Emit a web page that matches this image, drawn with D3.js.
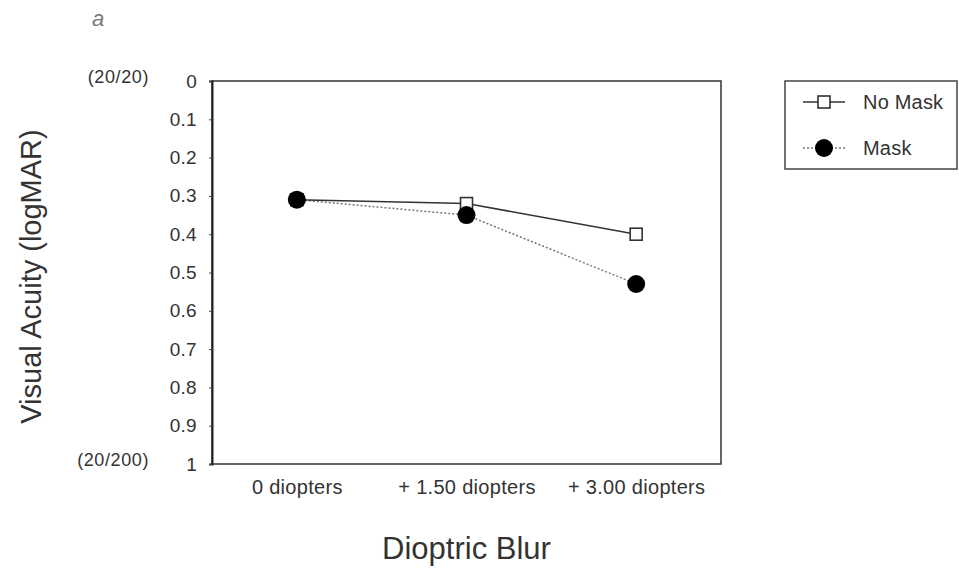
<!DOCTYPE html>
<html>
<head>
<meta charset="utf-8">
<script src="https://cdn.jsdelivr.net/npm/d3@7"></script>
<style>
  body { margin: 0; background: #fff; }
  text { font-family: "Liberation Sans", Arial, sans-serif; fill: #333; }
</style>
</head>
<body>
<div id="chart"></div>
<script>
const categories = ["0 diopters", "+ 1.50 diopters", "+ 3.00 diopters"];
const noMask = [0.31, 0.32, 0.40];
const mask = [0.31, 0.35, 0.53];
const yTicks = [0, 0.1, 0.2, 0.3, 0.4, 0.5, 0.6, 0.7, 0.8, 0.9, 1];
const snellen = [{ v: 0, label: "(20/20)" }, { v: 1, label: "(20/200)" }];

const svgWidth = 959;
const svgHeight = 570;
const margin = { top: 81, left: 212, right: 238, bottom: 106 };
const width = svgWidth - margin.left - margin.right;
const height = svgHeight - margin.top - margin.bottom;

const svg = d3.select("#chart")
  .append("svg")
  .attr("width", svgWidth)
  .attr("height", svgHeight);

const chartGroup = svg.append("g")
  .attr("transform", `translate(${margin.left}, ${margin.top})`);

const x = d3.scalePoint()
  .domain(categories)
  .range([0, width])
  .padding(0.5);

const y = d3.scaleLinear()
  .domain([0, 1])
  .range([0, height]);

// frame
chartGroup.append("rect")
  .attr("width", width)
  .attr("height", height)
  .attr("fill", "none")
  .attr("stroke", "#333")
  .attr("stroke-width", 1.5);

// y axis
const leftAxis = d3.axisLeft(y)
  .tickValues(yTicks)
  .tickSize(3)
  .tickPadding(12)
  .tickFormat(d => d === 0 || d === 1 ? d3.format("d")(d) : d3.format(".1f")(d));

const yAxis = chartGroup.append("g").call(leftAxis);
yAxis.select(".domain").attr("stroke", "#222").attr("stroke-width", 2);
yAxis.selectAll(".tick line").attr("stroke", "#444");
yAxis.selectAll(".tick text")
  .attr("font-size", "19px")
  .attr("font-family", "Liberation Sans, Arial, sans-serif")
  .attr("letter-spacing", "0.3px")
  .attr("fill", "#333");

chartGroup.selectAll(".snellen")
  .data(snellen)
  .join("text")
  .attr("class", "snellen")
  .attr("x", -63)
  .attr("y", d => y(d.v))
  .attr("dy", "0.1em")
  .attr("text-anchor", "end")
  .attr("font-size", "18px")
  .attr("letter-spacing", "0.6px")
  .text(d => d.label);

// x axis labels
const bottomAxis = d3.axisBottom(x).tickSize(0).tickPadding(16);
const xAxis = chartGroup.append("g")
  .attr("transform", `translate(0, ${height})`)
  .call(bottomAxis);
xAxis.select(".domain").remove();
xAxis.selectAll(".tick text")
  .attr("font-size", "20px")
  .attr("font-family", "Liberation Sans, Arial, sans-serif")
  .attr("letter-spacing", "0.3px")
  .attr("fill", "#333");

// lines
const line = d3.line()
  .x((d, i) => x(categories[i]))
  .y(d => y(d));

chartGroup.append("path")
  .datum(mask)
  .attr("d", line)
  .attr("fill", "none")
  .attr("stroke", "#777")
  .attr("stroke-width", 1.5)
  .attr("stroke-dasharray", "2,2");

chartGroup.append("path")
  .datum(noMask)
  .attr("d", line)
  .attr("fill", "none")
  .attr("stroke", "#333")
  .attr("stroke-width", 1.6);

chartGroup.selectAll(".sq")
  .data(noMask)
  .join("rect")
  .attr("class", "sq")
  .attr("x", (d, i) => x(categories[i]) - 6)
  .attr("y", d => y(d) - 6)
  .attr("width", 12)
  .attr("height", 12)
  .attr("fill", "#fff")
  .attr("stroke", "#333")
  .attr("stroke-width", 1.6);

chartGroup.selectAll(".dot")
  .data(mask)
  .join("circle")
  .attr("class", "dot")
  .attr("cx", (d, i) => x(categories[i]))
  .attr("cy", d => y(d))
  .attr("r", 9)
  .attr("fill", "#000");

// axis titles
svg.append("text")
  .attr("transform", `translate(41, ${margin.top + height / 2 + 4}) rotate(-90)`)
  .attr("text-anchor", "middle")
  .attr("font-size", "29px")
  .text("Visual Acuity (logMAR)");

svg.append("text")
  .attr("x", margin.left + width / 2)
  .attr("y", 559)
  .attr("text-anchor", "middle")
  .attr("font-size", "31px")
  .text("Dioptric Blur");

svg.append("text")
  .attr("x", 92)
  .attr("y", 26)
  .attr("font-size", "22px")
  .attr("font-style", "italic")
  .style("fill", "#777")
  .text("a");

// legend
const legend = svg.append("g").attr("transform", "translate(785, 81)");
legend.append("rect")
  .attr("width", 172)
  .attr("height", 88)
  .attr("fill", "#fff")
  .attr("stroke", "#444")
  .attr("stroke-width", 1.5);

const legendItems = [
  { label: "No Mask", y: 21, kind: "sq" },
  { label: "Mask", y: 67, kind: "dot" }
];
legendItems.forEach(item => {
  const g = legend.append("g").attr("transform", `translate(0, ${item.y})`);
  g.append("line")
    .attr("x1", 18).attr("x2", 60)
    .attr("stroke", item.kind === "sq" ? "#333" : "#777")
    .attr("stroke-width", 1.5)
    .attr("stroke-dasharray", item.kind === "sq" ? null : "2,2");
  if (item.kind === "sq") {
    g.append("rect")
      .attr("x", 33).attr("y", -6)
      .attr("width", 12).attr("height", 12)
      .attr("fill", "#fff").attr("stroke", "#333").attr("stroke-width", 1.6);
  } else {
    g.append("circle").attr("cx", 39).attr("r", 9).attr("fill", "#000");
  }
  g.append("text")
    .attr("x", 78)
    .attr("dy", "0.35em")
    .attr("font-size", "20px")
    .attr("letter-spacing", "0.2px")
    .text(item.label);
});
</script>
</body>
</html>
